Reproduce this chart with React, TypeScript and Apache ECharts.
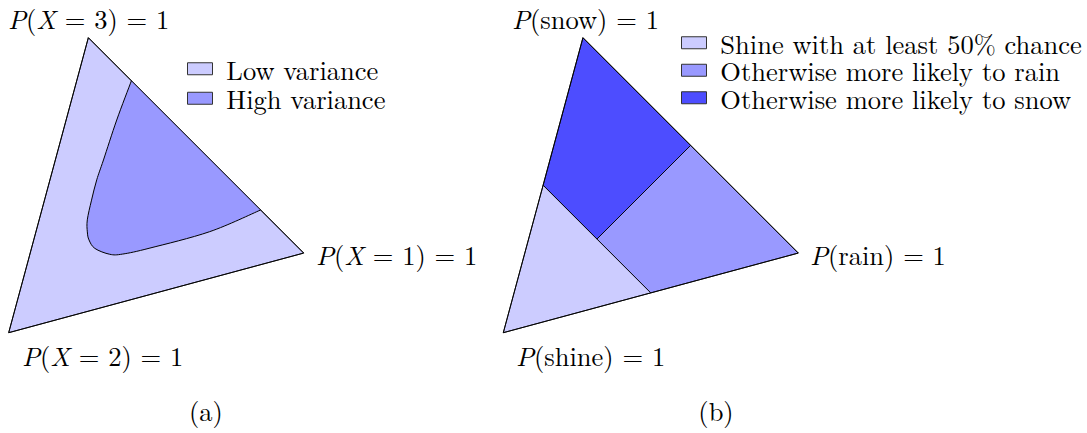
import React, { useEffect, useRef } from "react";
import * as echarts from "echarts";

// Probability triples, ordered by simplex corner:
// panel (a): [P(X = 1), P(X = 2), P(X = 3)]
// panel (b): [P(rain), P(shine), P(snow)]
const fullSimplex = [
  [1, 0, 0],
  [0, 1, 0],
  [0, 0, 1],
];

// Boundary of the high-variance region, from the X=3/X=1 edge round to the same edge
const highVarianceBoundary = [
  [0.2, 0.0, 0.8],
  [0.185, 0.144, 0.671],
  [0.176, 0.286, 0.538],
  [0.171, 0.357, 0.472],
  [0.172, 0.425, 0.403],
  [0.176, 0.489, 0.335],
  [0.188, 0.521, 0.291],
  [0.202, 0.538, 0.26],
  [0.232, 0.545, 0.223],
  [0.292, 0.521, 0.187],
  [0.339, 0.486, 0.175],
  [0.433, 0.397, 0.17],
  [0.635, 0.194, 0.171],
  [0.8, 0.0, 0.2],
];

const shineRegion = [
  [0, 1, 0],
  [0.5, 0.5, 0],
  [0, 0.5, 0.5],
];
const rainRegion = [
  [1, 0, 0],
  [0.5, 0, 0.5],
  [0.25, 0.5, 0.25],
  [0.5, 0.5, 0],
];
const snowRegion = [
  [0, 0, 1],
  [0, 0.5, 0.5],
  [0.25, 0.5, 0.25],
  [0.5, 0, 0.5],
];

const cornerNamesA = ["X = 1", "X = 2", "X = 3"];
const cornerNamesB = ["rain", "shine", "snow"];
const legendA = ["Low variance", "High variance"];
const legendB = [
  "Shine with at least 50% chance",
  "Otherwise more likely to rain",
  "Otherwise more likely to snow",
];
const captions = ["(a)", "(b)"];

const LIGHT = "#ccccff";
const MEDIUM = "#9999ff";
const DARK = "#4d4dff";
const FONT = "'Latin Modern Roman', 'Liberation Serif', serif";
const FONT_SIZE = 26.5;

// Where each simplex corner sits inside a panel's [0,1] x [0,1] grid
const CORNER_XY = [
  [1, 0.27],
  [0, 0],
  [0.27, 1],
];

function project(p: number[]): number[] {
  return [
    p[0] * CORNER_XY[0][0] + p[1] * CORNER_XY[1][0] + p[2] * CORNER_XY[2][0],
    p[0] * CORNER_XY[0][1] + p[1] * CORNER_XY[1][1] + p[2] * CORNER_XY[2][1],
  ];
}

// Smooth open path through pixel points (Catmull-Rom as cubic Béziers)
function smoothPath(pts: number[][]): string {
  let d = `M${pts[0][0]},${pts[0][1]}`;
  for (let i = 0; i < pts.length - 1; i++) {
    const p0 = pts[i - 1] || pts[i];
    const p1 = pts[i];
    const p2 = pts[i + 1];
    const p3 = pts[i + 2] || p2;
    const c1 = [p1[0] + (p2[0] - p0[0]) / 6, p1[1] + (p2[1] - p0[1]) / 6];
    const c2 = [p2[0] - (p3[0] - p1[0]) / 6, p2[1] - (p3[1] - p1[1]) / 6];
    d += ` C${c1[0]},${c1[1]} ${c2[0]},${c2[1]} ${p2[0]},${p2[1]}`;
  }
  return d;
}

function regionSeries(name: string, panel: number, region: number[][], fill: string) {
  return {
    type: "custom",
    name,
    coordinateSystem: "cartesian2d",
    xAxisIndex: panel,
    yAxisIndex: panel,
    silent: true,
    itemStyle: { color: fill },
    data: [[0.5, 0.5]],
    renderItem: (_params: any, api: any) => ({
      type: "polygon",
      shape: { points: region.map((b) => api.coord(project(b))) },
      style: { fill, stroke: "#000", lineWidth: 0.9 },
    }),
  };
}

function curveSeries(name: string, panel: number, boundary: number[][], fill: string) {
  return {
    type: "custom",
    name,
    coordinateSystem: "cartesian2d",
    xAxisIndex: panel,
    yAxisIndex: panel,
    silent: true,
    itemStyle: { color: fill },
    data: [[0.5, 0.5]],
    renderItem: (_params: any, api: any) => {
      const pts = boundary.map((b) => api.coord(project(b)));
      const open = smoothPath(pts);
      return {
        type: "group",
        children: [
          { type: "path", shape: { pathData: open + " Z" }, style: { fill, stroke: null } },
          { type: "path", shape: { pathData: open }, style: { fill: null, stroke: "#000", lineWidth: 1 } },
        ],
      };
    },
  };
}

function outlineSeries(panel: number) {
  return {
    type: "custom",
    coordinateSystem: "cartesian2d",
    xAxisIndex: panel,
    yAxisIndex: panel,
    silent: true,
    data: [[0.5, 0.5]],
    renderItem: (_params: any, api: any) => ({
      type: "polygon",
      shape: { points: fullSimplex.map((b) => api.coord(project(b))) },
      style: { fill: null, stroke: "#000", lineWidth: 0.9 },
    }),
  };
}

const rich = {
  i: { fontStyle: "italic", fontFamily: FONT, fontSize: FONT_SIZE, fill: "#000" },
};

// Italic variables P and X, upright everything else
function mathText(s: string): string {
  return s.replace(/\b([PX])\b/g, "{i|$1}");
}

function label(text: string, x: number, y: number, align = "left") {
  return {
    type: "text",
    x,
    y,
    silent: true,
    style: {
      text: mathText(text),
      rich,
      fontFamily: FONT,
      fontSize: FONT_SIZE,
      fill: "#000",
      align,
      verticalAlign: "middle",
    },
  };
}

function legend(names: string[], left: number, top: number, lineHeight: number) {
  return {
    orient: "vertical",
    left,
    top,
    padding: 0,
    itemGap: 0,
    itemWidth: 25,
    itemHeight: 12,
    icon: "rect",
    selectedMode: false,
    data: names,
    formatter: " {name}",
    itemStyle: { borderColor: "#333", borderWidth: 1 },
    textStyle: { fontFamily: FONT, fontSize: FONT_SIZE, color: "#000", lineHeight },
  };
}

export default function App() {
  const ref = useRef<HTMLDivElement>(null);

  useEffect(() => {
    if (!ref.current) return;
    const chart = echarts.init(ref.current, null, { renderer: "svg" });
    const axis = { type: "value", min: 0, max: 1, show: false };
    chart.setOption({
      animation: false,
      backgroundColor: "#fff",
      grid: [
        { left: 8.7, top: 37.7, width: 295, height: 295 },
        { left: 503.3, top: 37.7, width: 295, height: 295 },
      ],
      xAxis: [
        { ...axis, gridIndex: 0 },
        { ...axis, gridIndex: 1 },
      ],
      yAxis: [
        { ...axis, gridIndex: 0 },
        { ...axis, gridIndex: 1 },
      ],
      legend: [legend(legendA, 187, 54, 29.5), legend(legendB, 681, 29, 27.5)],
      series: [
        regionSeries(legendA[0], 0, fullSimplex, LIGHT),
        curveSeries(legendA[1], 0, highVarianceBoundary, MEDIUM),
        outlineSeries(0),
        regionSeries(legendB[0], 1, shineRegion, LIGHT),
        regionSeries(legendB[1], 1, rainRegion, MEDIUM),
        regionSeries(legendB[2], 1, snowRegion, DARK),
        outlineSeries(1),
      ],
      graphic: [
        label(`P(${cornerNamesA[2]}) = 1`, 8, 18),
        label(`P(${cornerNamesA[0]}) = 1`, 316, 254),
        label(`P(${cornerNamesA[1]}) = 1`, 22, 355),
        label(`P(${cornerNamesB[2]}) = 1`, 512, 18),
        label(`P(${cornerNamesB[0]}) = 1`, 810, 254),
        label(`P(${cornerNamesB[1]}) = 1`, 516, 355),
        label(captions[0], 206, 410, "center"),
        label(captions[1], 716, 410, "center"),
      ],
    });
    return () => chart.dispose();
  }, []);

  return (
    <div
      ref={ref}
      style={{ position: "fixed", left: 0, top: 0, width: 1087, height: 433, background: "#fff" }}
    />
  );
}
